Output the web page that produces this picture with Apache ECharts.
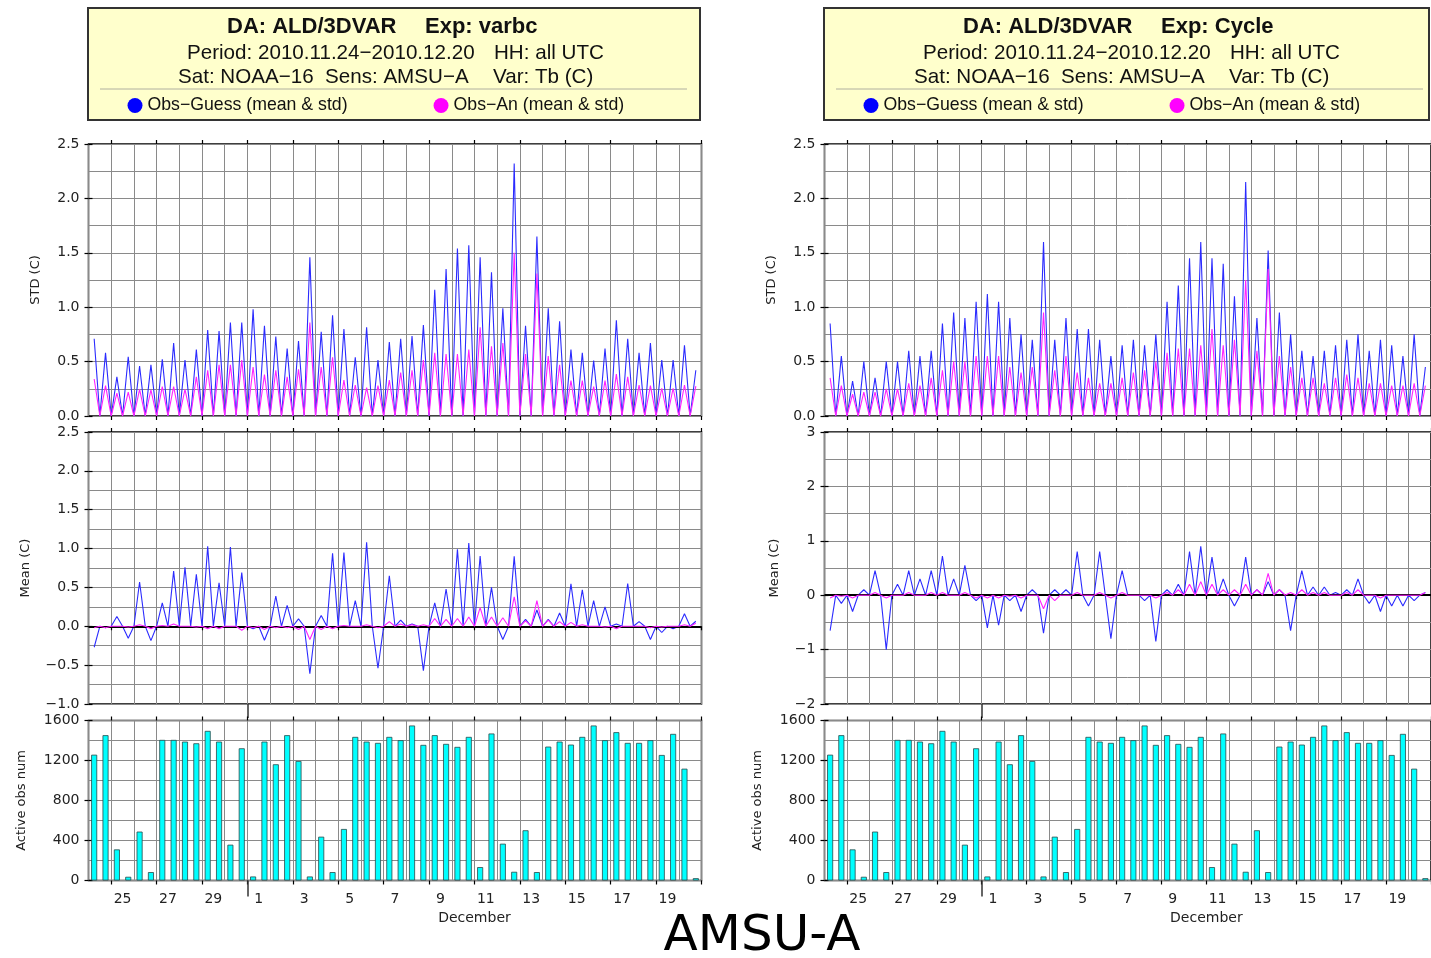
<!DOCTYPE html>
<html>
<head>
<meta charset="utf-8">
<script src="https://cdn.jsdelivr.net/npm/echarts@6/dist/echarts.min.js"></script>
<style>
  html, body { margin: 0; padding: 0; background: #ffffff; }
  #chart { width: 1431px; height: 958px; }
</style>
</head>
<body>
<div id="chart"></div>
<script>
// Time is counted in days since 2010-11-24 00 UTC; the window ends 2010-12-21 00 UTC.
const periodDays = 27;
const gridDays = [1, 3, 5, 7, 9, 11, 13, 15, 17, 19, 21, 23, 25, 27];   // tick marks every 2nd day
const monthStartDay = 7;                                                  // 1 December
const tickLabels = ['25', '27', '29', '1', '3', '5', '7', '9', '11', '13', '15', '17', '19'];
const tickLabelDays = [1.5, 3.5, 5.5, 7.5, 9.5, 11.5, 13.5, 15.5, 17.5, 19.5, 21.5, 23.5, 25.5];
const monthLabel = 'December';
const monthLabelDay = 17;

// Cycles with data: 06 and 18 UTC, from 24 Nov 06 UTC to 20 Dec 18 UTC (54 cycles).
const cycleDays = [
  0.25, 0.75, 1.25, 1.75, 2.25, 2.75, 3.25, 3.75, 4.25, 4.75, 5.25, 5.75, 6.25, 6.75,
  7.25, 7.75, 8.25, 8.75, 9.25, 9.75, 10.25, 10.75, 11.25, 11.75, 12.25, 12.75, 13.25, 13.75,
  14.25, 14.75, 15.25, 15.75, 16.25, 16.75, 17.25, 17.75, 18.25, 18.75, 19.25, 19.75, 20.25, 20.75,
  21.25, 21.75, 22.25, 22.75, 23.25, 23.75, 24.25, 24.75, 25.25, 25.75, 26.25, 26.75
];
// 00 and 12 UTC cycles hold no active observations and are drawn as 0.
const emptyCycleValue = 0;

// Active observation count per cycle (same for both experiments)
const activeObs = [
  1258, 1453, 311, 37, 489, 84, 1406, 1406, 1389, 1372, 1496, 1389, 358, 1322,
  40, 1389, 1162, 1453, 1195, 40, 438, 84, 515, 1436, 1389, 1376, 1436, 1403,
  1550, 1356, 1453, 1366, 1336, 1436, 134, 1470, 368, 87, 502, 84, 1339, 1389,
  1359, 1436, 1550, 1403, 1483, 1376, 1376, 1403, 1255, 1466, 1118, 23
];

// Experiment varbc
const varbcStdGuess = [
  0.71, 0.58, 0.36, 0.545, 0.46, 0.47, 0.52, 0.67, 0.515, 0.61, 0.79, 0.78, 0.86, 0.86,
  0.98, 0.83, 0.73, 0.62, 0.69, 1.46, 0.775, 0.925, 0.80, 0.54, 0.815, 0.515, 0.68, 0.71,
  0.735, 0.835, 1.16, 1.35, 1.54, 1.57, 1.46, 1.32, 0.99, 2.32, 0.83, 1.65, 0.99, 0.87,
  0.61, 0.58, 0.51, 0.62, 0.88, 0.71, 0.58, 0.67, 0.515, 0.515, 0.65, 0.42
];
const varbcStdAn = [
  0.34, 0.28, 0.21, 0.22, 0.245, 0.24, 0.27, 0.27, 0.245, 0.36, 0.42, 0.47, 0.47, 0.515,
  0.45, 0.38, 0.42, 0.36, 0.43, 0.86, 0.45, 0.54, 0.33, 0.285, 0.26, 0.28, 0.33, 0.40,
  0.42, 0.515, 0.58, 0.57, 0.57, 0.61, 0.815, 0.64, 0.67, 1.50, 0.57, 1.31, 0.55, 0.47,
  0.325, 0.325, 0.27, 0.325, 0.385, 0.36, 0.285, 0.28, 0.255, 0.255, 0.285, 0.275
];
const varbcMeanGuess = [
  -0.27, -0.02, 0.125, -0.155, 0.57, -0.185, 0.30, 0.71, 0.76, 0.67, 1.03, 0.56, 1.02, 0.69,
  -0.03, -0.18, 0.39, 0.27, 0.095, -0.61, 0.14, 0.94, 0.95, 0.33, 1.08, -0.54, 0.65, 0.08,
  0.03, -0.57, 0.30, 0.48, 0.99, 1.07, 0.905, 0.50, -0.17, 0.90, 0.09, 0.21, 0.09, 0.17,
  0.545, 0.47, 0.33, 0.25, 0.03, 0.55, 0.06, -0.17, -0.08, -0.03, 0.16, 0.065
];
const varbcMeanAn = [
  -0.02, -0.02, 0.0, -0.01, 0.02, -0.03, 0.01, 0.03, 0.0, -0.01, -0.03, -0.03, 0.0, -0.05,
  -0.02, -0.04, -0.02, -0.02, -0.04, -0.17, -0.04, -0.03, 0.01, 0.0, 0.02, -0.02, 0.06, 0.03,
  0.02, 0.02, 0.10, 0.09, 0.10, 0.12, 0.24, 0.12, 0.11, 0.38, 0.07, 0.33, 0.08, 0.06,
  0.05, 0.02, 0.0, -0.01, -0.03, 0.0, 0.0, -0.02, -0.01, 0.0, 0.02, 0.04
];

// Experiment Cycle
const cycleStdGuess = [
  0.85, 0.55, 0.32, 0.5, 0.35, 0.5, 0.5, 0.6, 0.55, 0.6, 0.85, 0.95, 0.9, 1.05,
  1.12, 1.05, 0.9, 0.75, 0.7, 1.6, 0.7, 0.9, 0.8, 0.8, 0.7, 0.55, 0.65, 0.7,
  0.65, 0.75, 1.05, 1.2, 1.45, 1.6, 1.45, 1.4, 1.1, 2.15, 0.9, 1.52, 0.95, 0.75,
  0.6, 0.55, 0.6, 0.65, 0.7, 0.75, 0.6, 0.7, 0.65, 0.55, 0.75, 0.45
];
const cycleStdAn = [
  0.35, 0.28, 0.2, 0.22, 0.22, 0.25, 0.25, 0.3, 0.28, 0.35, 0.42, 0.5, 0.5, 0.55,
  0.55, 0.55, 0.45, 0.4, 0.45, 0.95, 0.42, 0.55, 0.4, 0.35, 0.3, 0.3, 0.35, 0.4,
  0.42, 0.5, 0.58, 0.62, 0.62, 0.65, 0.8, 0.65, 0.7, 1.25, 0.6, 1.35, 0.55, 0.45,
  0.35, 0.35, 0.3, 0.35, 0.38, 0.35, 0.3, 0.3, 0.28, 0.28, 0.3, 0.28
];
const cycleMeanGuess = [
  -0.65, -0.15, -0.3, 0.1, 0.45, -1.0, 0.2, 0.45, 0.3, 0.45, 0.72, 0.3, 0.55, -0.1,
  -0.6, -0.55, -0.1, -0.3, 0.1, -0.7, 0.1, 0.1, 0.8, -0.2, 0.8, -0.8, 0.45, 0.0,
  -0.1, -0.85, 0.1, 0.2, 0.8, 0.9, 0.7, 0.3, -0.2, 0.7, 0.1, 0.25, 0.1, -0.65,
  0.45, 0.15, 0.15, 0.05, 0.1, 0.3, -0.15, -0.3, -0.2, -0.2, -0.1, 0.05
];
const cycleMeanAn = [
  -0.05, -0.02, -0.05, 0.0, 0.05, -0.05, 0.0, 0.05, 0.0, 0.05, 0.05, 0.0, 0.05, -0.05,
  -0.05, -0.05, -0.02, -0.05, 0.0, -0.25, -0.1, 0.0, 0.05, 0.0, 0.05, -0.05, 0.05, 0.0,
  0.0, -0.05, 0.05, 0.1, 0.2, 0.25, 0.2, 0.1, 0.1, 0.2, 0.1, 0.4, 0.1, 0.05,
  0.1, 0.05, 0.05, 0.0, 0.05, 0.1, 0.0, -0.05, 0.0, 0.0, 0.0, 0.05
];

const guessName = 'Obs\u2212Guess (mean & std)';
const anName = 'Obs\u2212An (mean & std)';
const guessColor = '#2b2bff';
const anColor = '#ff22ff';
const barColor = '#00ffff';
const gridLineColor = '#8a8a8a';
const axisFont = 'DejaVu Sans';
const headFont = 'Liberation Sans';

// Interleave the empty 00/12 UTC cycles between the 06/18 UTC values.
function cycleSeries(values) {
  const out = [];
  values.forEach(function (v, k) {
    if (k > 0) out.push([(cycleDays[k - 1] + cycleDays[k]) / 2, emptyCycleValue]);
    out.push([cycleDays[k], v]);
  });
  return out;
}

function minusFmt(digits) {
  return function (v) { return v.toFixed(digits).replace('-', '\u2212'); };
}

const option = {
  animation: false,
  backgroundColor: '#ffffff',
  grid: [], xAxis: [], yAxis: [], series: [], legend: [], graphic: []
};

function addPlot(cfg) {
  const gi = option.grid.length;
  option.grid.push({
    left: cfg.left, top: cfg.top, width: 613, height: cfg.height,
    show: true, borderColor: '#000', borderWidth: 1.5, backgroundColor: 'transparent'
  });
  const xMain = option.xAxis.length;
  // daily grid lines
  option.xAxis.push({
    gridIndex: gi, type: 'value', min: 0, max: periodDays, interval: 1, position: 'bottom',
    axisLine: { show: false }, axisTick: { show: false }, axisLabel: { show: false },
    splitLine: { show: true, lineStyle: { color: gridLineColor, width: 1 } }
  });
  // bottom ticks (and date labels on the lowest plot)
  option.xAxis.push({
    gridIndex: gi, type: 'value', min: 0, max: periodDays, position: 'bottom',
    axisLine: { show: false },
    axisTick: { show: true, customValues: gridDays, length: 4, lineStyle: { color: '#000', width: 1.2 } },
    axisLabel: cfg.dateLabels ? {
      show: true, customValues: tickLabelDays, margin: 12, color: '#222',
      fontFamily: axisFont, fontSize: 14,
      formatter: function (v) {
        const i = tickLabelDays.findIndex(function (d) { return Math.abs(d - v) < 1e-6; });
        return i >= 0 ? tickLabels[i] : '';
      }
    } : { show: false },
    splitLine: { show: false }
  });
  // top ticks
  option.xAxis.push({
    gridIndex: gi, type: 'value', min: 0, max: periodDays, position: 'top',
    axisLine: { show: false },
    axisTick: { show: true, customValues: gridDays, length: 4, lineStyle: { color: '#000', width: 1.2 } },
    axisLabel: { show: false }, splitLine: { show: false }
  });
  if (cfg.monthTick) {
    // longer tick at the start of December
    option.xAxis.push({
      gridIndex: gi, type: 'value', min: 0, max: periodDays, position: 'bottom',
      axisLine: { show: false },
      axisTick: { show: true, customValues: [monthStartDay], length: cfg.monthTick, lineStyle: { color: '#333', width: 1.5 } },
      axisLabel: cfg.dateLabels ? {
        show: true, customValues: [monthLabelDay], margin: 31, color: '#222',
        fontFamily: axisFont, fontSize: 14, formatter: function () { return monthLabel; }
      } : { show: false },
      splitLine: { show: false }
    });
  }
  const yMain = option.yAxis.length;
  option.yAxis.push({
    gridIndex: gi, type: 'value', min: cfg.min, max: cfg.max, interval: cfg.interval, position: 'left',
    name: cfg.name, nameLocation: 'middle', nameGap: cfg.nameGap, nameRotate: 90,
    nameTextStyle: { fontFamily: axisFont, fontSize: 13, color: '#222' },
    axisLine: { show: false },
    axisTick: { show: true, length: 4, lineStyle: { color: '#000', width: 1.2 } },
    axisLabel: { margin: 9, color: '#222', fontFamily: axisFont, fontSize: 14, formatter: cfg.fmt },
    splitLine: { show: true, lineStyle: { color: gridLineColor, width: 1 } },
    minorTick: { show: false, splitNumber: cfg.minorSplit },
    minorSplitLine: { show: true, lineStyle: { color: gridLineColor, width: 1 } }
  });
  option.yAxis.push({
    gridIndex: gi, type: 'value', min: cfg.min, max: cfg.max, interval: cfg.interval, position: 'right',
    axisLine: { show: false },
    axisTick: { show: true, length: 4, lineStyle: { color: '#000', width: 1.2 } },
    axisLabel: { show: false }, splitLine: { show: false }
  });
  return { x: xMain, y: yMain };
}

function addPanel(ox, boxWidth, exp, stdGuess, stdAn, meanGuess, meanAn, meanRange) {
  const left = 88.5 + ox;

  const pStd = addPlot({ left: left, top: 144, height: 272, min: 0, max: 2.5, interval: 0.5,
    minorSplit: 2, name: 'STD (C)', nameGap: 46, fmt: minusFmt(1) });
  const pMean = addPlot({ left: left, top: 432, height: 272, min: meanRange.min, max: meanRange.max,
    interval: meanRange.interval, minorSplit: meanRange.minor, name: 'Mean (C)', nameGap: meanRange.nameGap,
    fmt: minusFmt(meanRange.digits), monthTick: 14 });
  const pObs = addPlot({ left: left, top: 720.5, height: 160, min: 0, max: 1600, interval: 400,
    minorSplit: 2, name: 'Active obs num', nameGap: 60, fmt: minusFmt(0), dateLabels: true, monthTick: 16 });

  const lineBase = { type: 'line', showSymbol: false, symbol: 'none', silent: true, clip: true };

  option.series.push(Object.assign({}, lineBase, {
    name: guessName, xAxisIndex: pStd.x, yAxisIndex: pStd.y, data: cycleSeries(stdGuess),
    lineStyle: { color: guessColor, width: 1.1 }, itemStyle: { color: '#0000ff' }, z: 3
  }));
  option.series.push(Object.assign({}, lineBase, {
    name: anName, xAxisIndex: pStd.x, yAxisIndex: pStd.y, data: cycleSeries(stdAn),
    lineStyle: { color: anColor, width: 1.1 }, itemStyle: { color: '#ff00ff' }, z: 4
  }));
  option.series.push(Object.assign({}, lineBase, {
    name: guessName, xAxisIndex: pMean.x, yAxisIndex: pMean.y, data: cycleSeries(meanGuess),
    lineStyle: { color: guessColor, width: 1.1 }, itemStyle: { color: '#0000ff' }, z: 3,
    markLine: {
      silent: true, symbol: ['none', 'none'], label: { show: false },
      lineStyle: { color: '#000', width: 2.2, type: 'solid' },
      data: [{ yAxis: 0 }]
    }
  }));
  option.series.push(Object.assign({}, lineBase, {
    name: anName, xAxisIndex: pMean.x, yAxisIndex: pMean.y, data: cycleSeries(meanAn),
    lineStyle: { color: anColor, width: 1.1 }, itemStyle: { color: '#ff00ff' }, z: 5
  }));
  option.series.push({
    type: 'bar', name: 'Active obs', xAxisIndex: pObs.x, yAxisIndex: pObs.y, silent: true,
    data: cycleDays.map(function (d, k) { return [d, activeObs[k]]; }),
    barWidth: 6, itemStyle: { color: barColor, borderColor: '#2a4a4a', borderWidth: 0.8 }
  });

  // header box
  const hs = { fontFamily: headFont, fill: '#111', verticalAlign: 'middle' };
  function headText(x, y, text, size, bold) {
    return { type: 'text', z: 11, x: x + ox, y: y,
      style: Object.assign({ text: text, fontSize: size, fontWeight: bold ? 'bold' : 'normal' }, hs) };
  }
  option.graphic.push(
    { type: 'rect', z: 10, shape: { x: 88 + ox, y: 8, width: boxWidth, height: 112 },
      style: { fill: '#ffffcc', stroke: '#333', lineWidth: 2 } },
    headText(227, 27, 'DA: ALD/3DVAR', 22, true),
    headText(425, 27, 'Exp: ' + exp, 22, true),
    headText(187, 53, 'Period: 2010.11.24\u22122010.12.20', 20.6),
    headText(494, 53, 'HH: all UTC', 20.6),
    headText(178, 77, 'Sat: NOAA\u221216', 20.6),
    headText(325, 77, 'Sens: AMSU\u2212A', 20.6),
    headText(493, 77, 'Var: Tb (C)', 20.6),
    { type: 'line', z: 11, shape: { x1: 100 + ox, y1: 89, x2: 687 + ox, y2: 89 }, style: { stroke: '#b0b0a0', lineWidth: 1 } }
  );
  option.legend.push({
    left: 127.5 + ox, top: 96.5, padding: 0, itemWidth: 15, itemHeight: 15, itemGap: 86, icon: 'circle',
    selectedMode: false, z: 12, data: [guessName, anName],
    textStyle: { fontFamily: headFont, fontSize: 17.7, color: '#111' }
  });
}

addPanel(0, 612, 'varbc', varbcStdGuess, varbcStdAn, varbcMeanGuess, varbcMeanAn,
  { min: -1, max: 2.5, interval: 0.5, minor: 2, digits: 1, nameGap: 56 });
addPanel(736, 605, 'Cycle', cycleStdGuess, cycleStdAn, cycleMeanGuess, cycleMeanAn,
  { min: -2, max: 3, interval: 1, minor: 2, digits: 0, nameGap: 43 });

option.graphic.push({
  type: 'text', x: 762, y: 937, z: 11,
  style: { text: 'AMSU-A', fontFamily: 'DejaVu Sans', fontSize: 50, fill: '#000', align: 'center', verticalAlign: 'middle' }
});

const chart = echarts.init(document.getElementById('chart'), null, { renderer: 'canvas' });
chart.setOption(option);
</script>
</body>
</html>
